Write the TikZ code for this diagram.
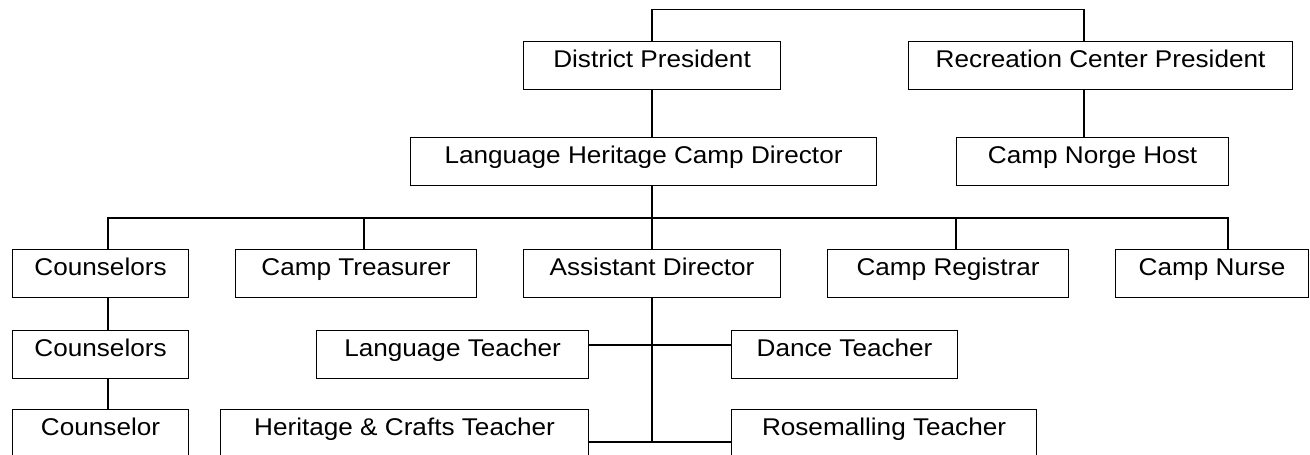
\documentclass[tikz,border=0pt]{standalone}
\usepackage{fontspec}
\setmainfont{Liberation Sans}[FakeStretch=1.08]
\begin{document}
\begin{tikzpicture}[x=1pt,y=-1pt,
  box/.style={draw, line width=1.1pt, inner xsep=0pt, inner ysep=0pt,
    text height=26pt, text depth=22pt, anchor=north west,
    font=\fontsize{24.2pt}{28pt}\selectfont},
  link/.style={line width=1.1pt}]
\useasboundingbox (0,0) rectangle (1310,455);
\clip (0,0) rectangle (1310,455);
\fill[white] (0,0) rectangle (1310,455);
% boxes
\node[box, minimum width=257pt] (dp)   at (523,41)  {District President};
\node[box, minimum width=384pt] (rcp)  at (908,41)  {Recreation Center President};
\node[box, minimum width=466pt] (lhcd) at (410,137) {Language Heritage Camp Director};
\node[box, minimum width=272pt] (cnh)  at (956,137) {Camp Norge Host};
\node[box, minimum width=176pt] (c1)   at (12,249)  {Counselors};
\node[box, minimum width=241pt] (ct)   at (235,249) {Camp Treasurer};
\node[box, minimum width=257pt] (ad)   at (523,249) {Assistant Director};
\node[box, minimum width=241pt] (cr)   at (827,249) {Camp Registrar};
\node[box, minimum width=193pt] (cn)   at (1115,249) {Camp Nurse};
\node[box, minimum width=176pt] (c2)   at (12,330)  {Counselors};
\node[box, minimum width=272pt] (lt)   at (316,330) {Language Teacher};
\node[box, minimum width=226pt] (dt)   at (731,330) {Dance Teacher};
\node[box, minimum width=176pt] (c3)   at (12,409)  {Counselor};
\node[box, minimum width=368pt] (hct)  at (220,409) {Heritage \& Crafts Teacher};
\node[box, minimum width=305pt] (rt)   at (731,409) {Rosemalling Teacher};
% guide coordinates
\coordinate (topL) at (652,9.5);
\coordinate (topR) at (1084,9.5);
\coordinate (busL) at (108,218);
\coordinate (busR) at (1228,218);
\coordinate (busC) at (652,218);
\coordinate (xT) at (364,218);
\coordinate (xR) at (956,218);
\coordinate (adEnd) at (652,442);
% connectors
\draw[link] (topL |- dp.north) -- (topL) -- (topR) -- (topR |- rcp.north);
\draw[link] (topL |- dp.south) -- (topL |- lhcd.north);
\draw[link] (topR |- rcp.south) -- (topR |- cnh.north);
\draw[link] (busC |- lhcd.south) -- (busC |- ad.north);
\draw[link] (busL |- c1.north) -- (busL) -- (busR) -- (busR |- cn.north);
\draw[link] (xT) -- (xT |- ct.north);
\draw[link] (xR) -- (xR |- cr.north);
\draw[link] (busL |- c1.south) -- (busL |- c2.north);
\draw[link] (busL |- c2.south) -- (busL |- c3.north);
\draw[link] (busC |- ad.south) -- (adEnd);
\draw[link] (lt.east |- 0,345) -- (dt.west |- 0,345);
\draw[link] (hct.east |- adEnd) -- (rt.west |- adEnd);
\end{tikzpicture}
\end{document}
